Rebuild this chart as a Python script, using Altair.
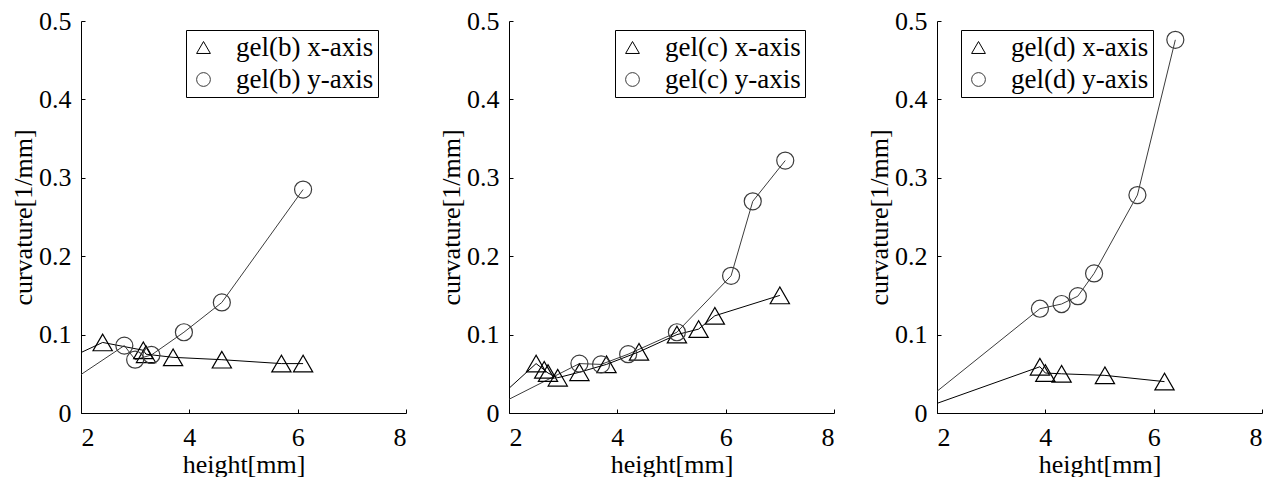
import altair as alt
import pandas as pd

# ---------------- data ----------------
# gel(b)
b_x_h = [2.4, 3.15, 3.2, 3.7, 4.6, 5.7, 6.1]
b_x_c = [0.090, 0.080, 0.075, 0.071, 0.068, 0.063, 0.063]
b_y_h = [2.8, 3.0, 3.3, 3.9, 4.6, 6.1]
b_y_c = [0.086, 0.068, 0.074, 0.103, 0.141, 0.285]
b_x_lead = [1.5, 0.061]   # point left of the visible range (line enters from edge)
b_y_lead = [1.5, 0.026]

# gel(c)
c_x_h = [2.5, 2.65, 2.72, 2.9, 3.3, 3.8, 4.4, 5.1, 5.5, 5.8, 7.0]
c_x_c = [0.063, 0.055, 0.051, 0.045, 0.052, 0.062, 0.078, 0.100, 0.107, 0.124, 0.150]
c_y_h = [3.3, 3.7, 4.2, 5.1, 6.1, 6.5, 7.1]
c_y_c = [0.063, 0.062, 0.075, 0.103, 0.175, 0.270, 0.322]
c_x_lead = [1.5, 0.0]
c_y_lead = [1.5, 0.0]

# gel(d)
d_x_h = [3.9, 4.0, 4.3, 5.1, 6.2]
d_x_c = [0.059, 0.051, 0.050, 0.048, 0.040]
d_y_h = [3.9, 4.3, 4.6, 4.9, 5.7, 6.4]
d_y_c = [0.133, 0.139, 0.149, 0.178, 0.278, 0.476]
d_x_lead = [1.5, 0.0]
d_y_lead = [1.5, 0.0]

x_ticks = [2, 4, 6, 8]
y_ticks = [0, 0.1, 0.2, 0.3, 0.4, 0.5]

FONT = "Liberation Serif"
W, H = 325, 392
TRI_SIZE, CIRC_SIZE = 370, 290
GRAY = "#3c3c3c"


def panel(g, xh, xc, yh, yc, xlead, ylead, legx):
    lab_x = f"gel({g}) x-axis"
    lab_y = f"gel({g}) y-axis"
    line_x = pd.DataFrame({"h": [xlead[0]] + xh, "c": [xlead[1]] + xc})
    line_y = pd.DataFrame({"h": [ylead[0]] + yh, "c": [ylead[1]] + yc})
    pts = pd.DataFrame({
        "h": xh + yh,
        "c": xc + yc,
        "s": [lab_x] * len(xh) + [lab_y] * len(yh),
        "sz": [TRI_SIZE] * len(xh) + [CIRC_SIZE] * len(yh),
    })
    xs = alt.Scale(domain=[2, 8], nice=False, zero=False)
    ys = alt.Scale(domain=[0, 0.5], nice=False, zero=False)

    l1 = alt.Chart(line_x).mark_line(color="black", strokeWidth=1, clip=True).encode(
        x=alt.X("h:Q", scale=xs, axis=alt.Axis(
            orient="bottom", values=x_ticks, format="d", tickSize=0,
            labelPadding=11, title="height[mm]", titlePadding=1)),
        y=alt.Y("c:Q", scale=ys, axis=alt.Axis(
            orient="left", values=y_ticks, format="~g", tickSize=0,
            labelPadding=10, title="curvature[1/mm]", titlePadding=2)),
    )
    l2 = alt.Chart(line_y).mark_line(color=GRAY, strokeWidth=1, clip=True).encode(
        x=alt.X("h:Q", scale=xs, axis=None),
        y=alt.Y("c:Q", scale=ys, axis=None),
    )
    leg = alt.Legend(title=None, orient="none", legendX=legx, legendY=9)
    p = alt.Chart(pts).mark_point(filled=False, strokeWidth=1.2, clip=True, opacity=1).encode(
        x=alt.X("h:Q", scale=xs, axis=alt.Axis(
            orient="top", offset=-H, values=x_ticks, labels=False, domain=False,
            tickSize=4, title=None, grid=False)),
        y=alt.Y("c:Q", scale=ys, axis=alt.Axis(
            orient="right", offset=-W, values=y_ticks, labels=False, domain=False,
            tickSize=4, title=None, grid=False)),
        shape=alt.Shape("s:N", scale=alt.Scale(domain=[lab_x, lab_y],
                                              range=["triangle-up", "circle"]),
                        legend=leg),
        stroke=alt.Stroke("s:N", scale=alt.Scale(domain=[lab_x, lab_y],
                                                range=["black", GRAY]),
                          legend=leg),
        size=alt.Size("sz:Q", scale=None),
    )
    return alt.layer(l1, l2, p).properties(width=W, height=H)


chart = alt.hconcat(
    panel("b", b_x_h, b_x_c, b_y_h, b_y_c, b_x_lead, b_y_lead, 105),
    panel("c", c_x_h, c_x_c, c_y_h, c_y_c, c_x_lead, c_y_lead, 106),
    panel("d", d_x_h, d_x_c, d_y_h, d_y_c, d_x_lead, d_y_lead, 24),
    spacing=31,
).resolve_scale(shape="independent", stroke="independent"
).properties(
    padding={"left": 2, "top": 0, "right": 0, "bottom": 0}
).configure_view(strokeWidth=0).configure_axis(
    labelFont=FONT, titleFont=FONT, labelFontSize=26, titleFontSize=26,
    titleFontWeight="normal", labelColor="black", titleColor="black",
    domainColor="black", tickColor="black", domainWidth=1, tickWidth=1, grid=False,
).configure_legend(
    labelFont=FONT, labelFontSize=27, labelColor="black", strokeColor="black",
    fillColor="white", padding=4, rowPadding=4, symbolSize=190, symbolStrokeWidth=1,
    labelOffset=19, symbolOffset=0, cornerRadius=0, labelLimit=300,
)

chart.save("out.html", embed_options={"renderer": "svg", "actions": False})
